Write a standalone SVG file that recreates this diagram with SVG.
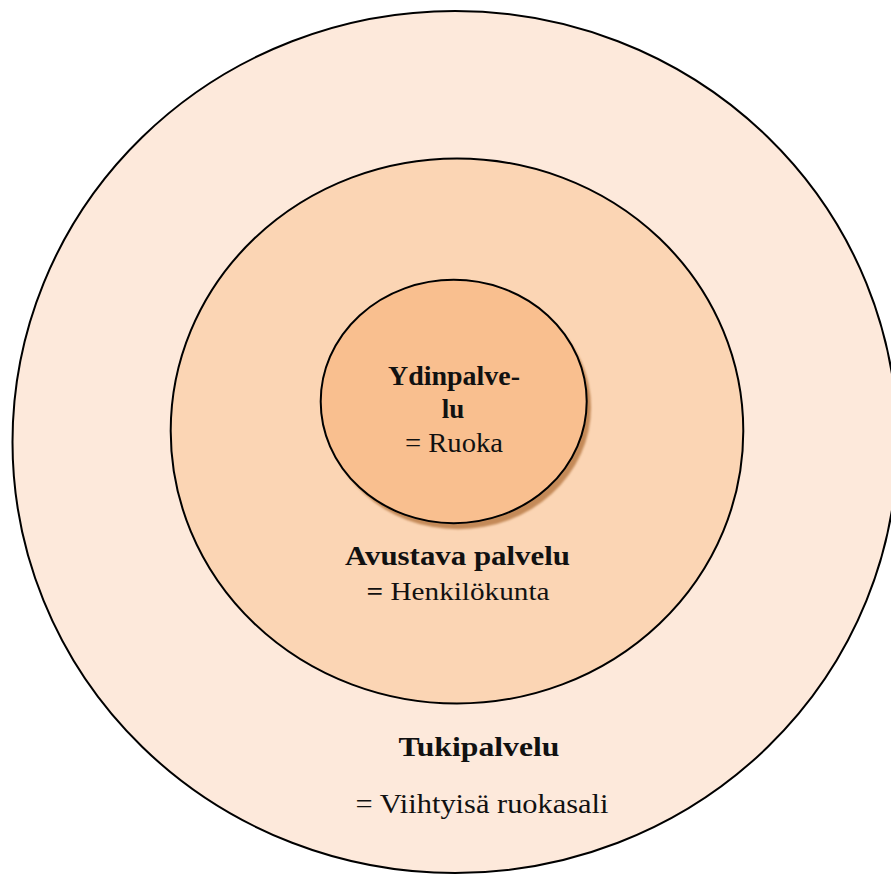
<svg xmlns="http://www.w3.org/2000/svg" width="891" height="876" viewBox="0 0 891 876">
  <style>
    .ring { stroke: #000; stroke-width: 2; }
    .t { font-family: "Liberation Serif", "DejaVu Serif", serif; fill: #111; text-anchor: middle; }
    .b { font-weight: bold; }
  </style>
  <defs>
    <filter id="soft" x="-10%" y="-10%" width="120%" height="120%">
      <feGaussianBlur stdDeviation="1"/>
    </filter>
  </defs>
  <rect width="891" height="876" fill="#fff"/>

  <!-- outer ring: support service -->
  <g id="tukipalvelu">
    <ellipse class="ring" cx="455" cy="442" rx="442.5" ry="431" fill="#fde9db"/>
    <text class="t b" x="479" y="756" font-size="28" textLength="161" lengthAdjust="spacingAndGlyphs">Tukipalvelu</text>
    <text class="t" x="482" y="813" font-size="27" textLength="253" lengthAdjust="spacingAndGlyphs">= Viihtyisä ruokasali</text>
  </g>

  <!-- middle ring: facilitating service -->
  <g id="avustava">
    <ellipse class="ring" cx="457" cy="431" rx="286.3" ry="272.5" fill="#fbd5b4"/>
    <text class="t b" x="457.5" y="565" font-size="27" textLength="225" lengthAdjust="spacingAndGlyphs">Avustava palvelu</text>
    <text class="t" x="458" y="600" font-size="26" textLength="183" lengthAdjust="spacingAndGlyphs"><tspan class="b">=</tspan> Henkilökunta</text>
  </g>

  <!-- core: core service, with its drop shadow -->
  <g id="ydinpalvelu">
    <ellipse cx="458" cy="407.5" rx="133" ry="121.7" fill="#c48a58" filter="url(#soft)"/>
    <ellipse class="ring" cx="453.7" cy="401.5" rx="133" ry="121.7" fill="#f9bf8f" stroke-width="2.6"/>
    <text class="t b" x="454" y="385" font-size="27" textLength="132" lengthAdjust="spacingAndGlyphs">Ydinpalve-</text>
    <text class="t b" x="453" y="418" font-size="27">lu</text>
    <text class="t" x="454" y="452" font-size="27" textLength="98" lengthAdjust="spacingAndGlyphs">= Ruoka</text>
  </g>
</svg>
